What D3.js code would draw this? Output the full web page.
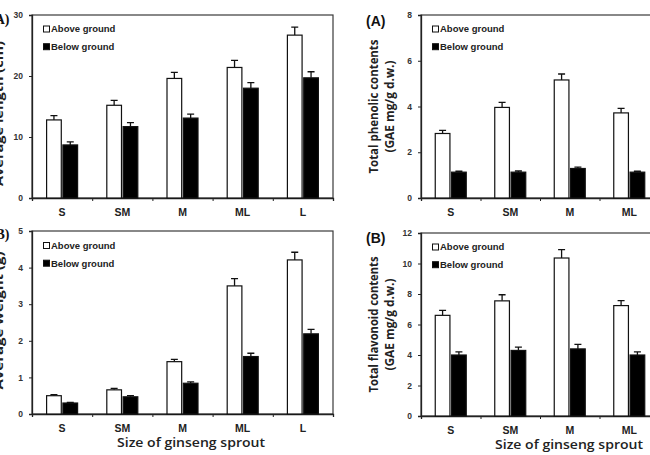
<!DOCTYPE html>
<html>
<head>
<meta charset="utf-8">
<script src="https://cdn.jsdelivr.net/npm/d3@7"></script>
<style>
    body { margin: 0; background: #fff; }
    svg { display: block; }
    .tick text { font-family: "Liberation Sans", Arial, sans-serif; font-weight: bold; }
</style>
</head>
<body>
<div id="chart"></div>
<script>
// categories
const sizesFive = ["S", "SM", "M", "ML", "L"];
const sizesFour = ["S", "SM", "M", "ML"];
const seriesNames = ["Above ground", "Below ground"];

// average length (cm)
const lengthAbove = [12.8, 15.2, 19.6, 21.4, 26.7];
const lengthAboveErr = [0.7, 0.8, 1.0, 1.15, 1.3];
const lengthBelow = [8.7, 11.7, 13.1, 18.0, 19.7];
const lengthBelowErr = [0.5, 0.65, 0.65, 0.9, 1.0];
const lengthTicks = [0, 10, 20, 30];

// average weight (g)
const weightAbove = [0.5, 0.66, 1.43, 3.5, 4.21];
const weightAboveErr = [0.03, 0.04, 0.06, 0.2, 0.21];
const weightBelow = [0.3, 0.47, 0.84, 1.57, 2.19];
const weightBelowErr = [0.02, 0.03, 0.04, 0.09, 0.12];
const weightTicks = [0, 1, 2, 3, 4, 5];

// total phenolic contents
const phenolicAbove = [2.82, 3.96, 5.16, 3.72];
const phenolicAboveErr = [0.14, 0.22, 0.26, 0.2];
const phenolicBelow = [1.13, 1.13, 1.29, 1.13];
const phenolicBelowErr = [0.04, 0.05, 0.06, 0.04];
const phenolicTicks = [0, 2, 4, 6, 8];

// total flavonoid contents
const flavonoidAbove = [6.6, 7.55, 10.36, 7.24];
const flavonoidAboveErr = [0.33, 0.4, 0.55, 0.33];
const flavonoidBelow = [4.0, 4.3, 4.4, 4.0];
const flavonoidBelowErr = [0.2, 0.22, 0.3, 0.2];
const flavonoidTicks = [0, 2, 4, 6, 8, 10, 12];

const svg = d3.select('#chart')
    .append('svg')
    .attr('width', 650)
    .attr('height', 455);

const drawPanel = p => {
    const g = svg.append('g').attr('transform', `translate(${p.left}, ${p.top})`);

    const x = d3.scaleBand().domain(p.categories).range([0, p.width]);
    const xEdge = d3.scaleLinear().domain([0, p.categories.length]).range([0, p.width]);
    const x1 = d3.scaleBand().domain(seriesNames).range([0, 31]).paddingInner(0.1);
    const y = d3.scaleLinear().domain([0, d3.max(p.ticks)]).range([p.height, 0]);

    // frame
    g.append('rect')
        .attr('width', p.width)
        .attr('height', p.height)
        .attr('fill', 'none')
        .attr('stroke', '#3a3a3a')
        .attr('stroke-width', 1.2);

    // y axis
    const yAxis = d3.axisLeft(y)
        .tickValues(p.ticks)
        .tickFormat(d => d)
        .tickSize(3)
        .tickPadding(6);
    const ya = g.append('g').call(yAxis);
    ya.select('.domain').attr('stroke', '#222').attr('stroke-width', 1.3);
    ya.selectAll('.tick line').attr('stroke', '#222');
    ya.selectAll('.tick text').attr('font-size', 8.5).attr('fill', '#333');

    // x axis: boundary ticks
    const xEdgeAxis = d3.axisBottom(xEdge)
        .tickValues(d3.range(p.categories.length + 1))
        .tickSize(3)
        .tickFormat('');
    const xa = g.append('g').attr('transform', `translate(0, ${p.height})`).call(xEdgeAxis);
    xa.select('.domain').attr('stroke', '#222').attr('stroke-width', 1.3);
    xa.selectAll('.tick line').attr('stroke', '#222');

    // category labels
    const xLabels = g.append('g')
        .attr('transform', `translate(0, ${p.height})`)
        .call(d3.axisBottom(x).tickSize(0).tickPadding(p.catPad));
    xLabels.select('.domain').remove();
    xLabels.selectAll('.tick text').attr('font-size', 10.5).attr('fill', '#222');

    const rows = p.categories.map((c, i) => ({
        cat: c,
        values: [
            { name: seriesNames[0], v: p.above[i], e: p.aboveErr[i] },
            { name: seriesNames[1], v: p.below[i], e: p.belowErr[i] }
        ]
    }));

    const groups = g.selectAll('.grp')
        .data(rows)
        .enter()
        .append('g')
        .attr('class', 'grp')
        .attr('transform', d => `translate(${x(d.cat) + (x.bandwidth() - 31) / 2}, 0)`);

    // error bars first so the bar top covers the base
    groups.selectAll('.err')
        .data(d => d.values)
        .enter()
        .append('path')
        .attr('class', 'err')
        .attr('d', d => {
            const cx = x1(d.name) + x1.bandwidth() / 2;
            return `M${cx},${y(d.v)}V${y(d.v + d.e)}M${cx - 3.5},${y(d.v + d.e)}H${cx + 3.5}`;
        })
        .attr('fill', 'none')
        .attr('stroke', '#111')
        .attr('stroke-width', 1.3);

    groups.selectAll('.bar')
        .data(d => d.values)
        .enter()
        .append('rect')
        .attr('class', 'bar')
        .attr('x', d => x1(d.name))
        .attr('y', d => y(d.v))
        .attr('width', x1.bandwidth())
        .attr('height', d => p.height - y(d.v))
        .attr('fill', d => d.name === seriesNames[0] ? '#fff' : '#000')
        .attr('stroke', '#111')
        .attr('stroke-width', 1.2);

    // legend
    const legend = g.selectAll('.legend')
        .data(seriesNames)
        .enter()
        .append('g')
        .attr('class', 'legend')
        .attr('transform', (d, i) => `translate(11, ${p.legendY + i * 17.7})`);
    legend.append('rect')
        .attr('x', 0.5)
        .attr('y', -3)
        .attr('width', 6)
        .attr('height', 6)
        .attr('fill', (d, i) => i === 0 ? '#fff' : '#000')
        .attr('stroke', '#111')
        .attr('stroke-width', 1);
    legend.append('text')
        .attr('x', 8)
        .attr('y', 3.4)
        .text(d => d)
        .style('font-family', '"Liberation Sans", Arial, sans-serif')
        .style('font-weight', 'bold')
        .style('font-size', '9.5px')
        .style('fill', '#222');

    // y axis title
    p.yTitle.forEach((t, i) => {
        svg.append('text')
            .attr('transform', `translate(${p.yTitleX[i]}, ${p.top + p.height / 2 + p.yTitleShift}) rotate(-90)`)
            .attr('text-anchor', 'middle')
            .attr('textLength', p.yTitleLen[i])
            .attr('lengthAdjust', 'spacingAndGlyphs')
            .text(t)
            .style('font-family', '"Open Sans", Arial, sans-serif')
            .style('font-weight', 'bold')
            .style('font-size', '12px')
            .style('fill', '#222');
    });

    // panel letter
    svg.append('text')
        .attr('x', p.letterX)
        .attr('y', p.letterY)
        .attr('text-anchor', p.letterAnchor)
        .text(p.letter)
        .style('font-family', p.letterFont)
        .style('font-weight', 'bold')
        .style('font-size', '14px')
        .style('fill', '#111');

    if (p.xTitle) {
        svg.append('text')
            .attr('x', p.xTitleX)
            .attr('y', p.top + p.height + 33)
            .attr('text-anchor', 'middle')
            .attr('textLength', 148)
            .attr('lengthAdjust', 'spacingAndGlyphs')
            .text(p.xTitle)
            .style('font-family', '"Open Sans", Arial, sans-serif')
            .style('font-weight', 600)
            .style('font-size', '13px')
            .style('fill', '#222');
    }
};

drawPanel({
    left: 32, top: 15, width: 301, height: 183,
    categories: sizesFive, ticks: lengthTicks,
    above: lengthAbove, aboveErr: lengthAboveErr, below: lengthBelow, belowErr: lengthBelowErr,
    legendY: 14, catPad: 11,
    yTitle: ["Average length (cm)"], yTitleX: [3], yTitleLen: [145], yTitleShift: 7,
    letter: "(A)", letterX: 9.5, letterY: 24, letterAnchor: 'end', letterFont: '"Liberation Serif", serif'
});

drawPanel({
    left: 32, top: 231, width: 301, height: 183,
    categories: sizesFive, ticks: weightTicks,
    above: weightAbove, aboveErr: weightAboveErr, below: weightBelow, belowErr: weightBelowErr,
    legendY: 14.5, catPad: 11,
    yTitle: ["Average weight (g)"], yTitleX: [3], yTitleLen: [138], yTitleShift: -2,
    letter: "(B)", letterX: 9.5, letterY: 239, letterAnchor: 'end', letterFont: '"Liberation Serif", serif',
    xTitle: "Size of ginseng sprout", xTitleX: 191
});

drawPanel({
    left: 421, top: 15, width: 238, height: 183,
    categories: sizesFour, ticks: phenolicTicks,
    above: phenolicAbove, aboveErr: phenolicAboveErr, below: phenolicBelow, belowErr: phenolicBelowErr,
    legendY: 14, catPad: 11,
    yTitle: ["Total phenolic contents", "(GAE mg/g d.w.)"], yTitleX: [378, 394], yTitleLen: [134, 92], yTitleShift: 0,
    letter: "(A)", letterX: 366, letterY: 26, letterAnchor: 'start', letterFont: '"Liberation Sans", Arial, sans-serif'
});

drawPanel({
    left: 421, top: 233, width: 238, height: 183,
    categories: sizesFour, ticks: flavonoidTicks,
    above: flavonoidAbove, aboveErr: flavonoidAboveErr, below: flavonoidBelow, belowErr: flavonoidBelowErr,
    legendY: 14, catPad: 11,
    yTitle: ["Total flavonoid contents", "(GAE mg/g d.w.)"], yTitleX: [378, 394], yTitleLen: [136, 92], yTitleShift: 0,
    letter: "(B)", letterX: 366, letterY: 243, letterAnchor: 'start', letterFont: '"Liberation Sans", Arial, sans-serif',
    xTitle: "Size of ginseng sprout", xTitleX: 569
});
</script>
</body>
</html>
